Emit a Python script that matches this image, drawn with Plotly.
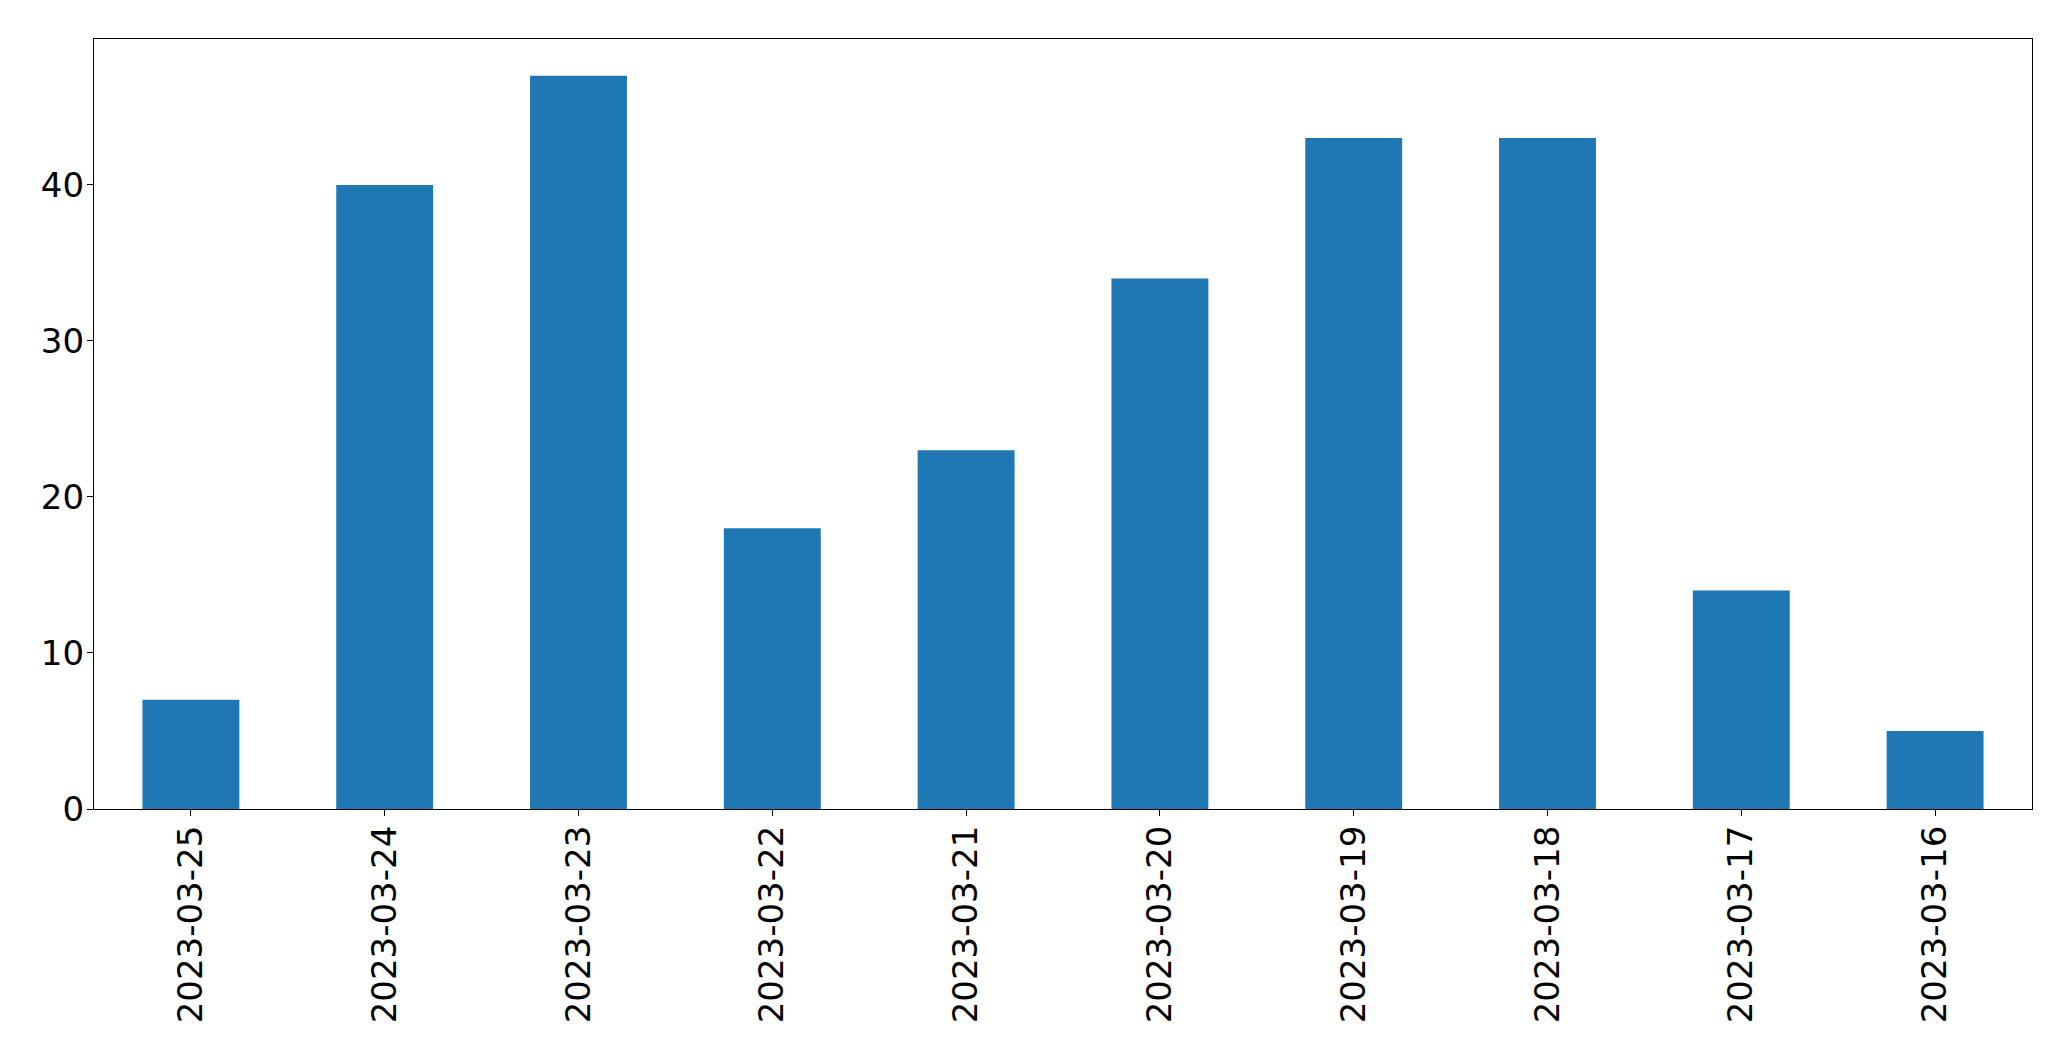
import plotly.graph_objects as go

# counts per day, newest first as in the source
dates = [
    "2023-03-25", "2023-03-24", "2023-03-23", "2023-03-22", "2023-03-21",
    "2023-03-20", "2023-03-19", "2023-03-18", "2023-03-17", "2023-03-16",
]
counts = [7, 40, 47, 18, 23, 34, 43, 43, 14, 5]
y_ticks = [0, 10, 20, 30, 40]

fig = go.Figure(
    go.Bar(x=dates, y=counts, width=0.5, marker=dict(color="#1f77b4", line=dict(width=0)))
)

axis_style = dict(
    showline=True,
    linewidth=1.3,
    linecolor="black",
    mirror=True,
    showgrid=False,
    zeroline=False,
    ticks="outside",
    ticklen=6,
    tickwidth=1.3,
    tickcolor="black",
    tickfont=dict(family="DejaVu Sans", size=34, color="black"),
)

fig.update_layout(
    width=2071,
    height=1061,
    margin=dict(l=86, r=47, t=31, b=260),
    plot_bgcolor="white",
    paper_bgcolor="white",
    showlegend=False,
    xaxis=dict(type="category", range=[-0.5, 9.5], tickangle=-90,
               ticklabelstandoff=-4, **axis_style),
    yaxis=dict(range=[0, 49.35], tickvals=y_ticks,
               ticklabelstandoff=-4, **axis_style),
)

fig.write_html("out.html")
